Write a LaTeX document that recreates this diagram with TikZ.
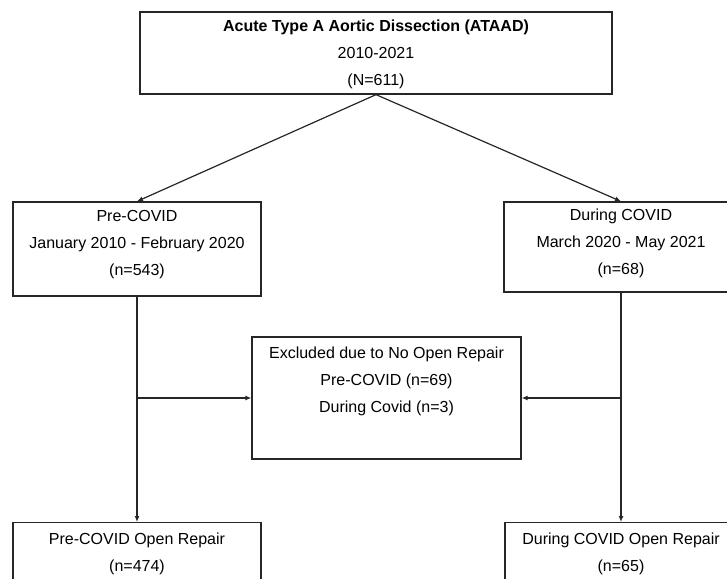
\documentclass[tikz,border=0pt]{standalone}
\usepackage{fontspec}
\setmainfont{Liberation Sans}
\usetikzlibrary{arrows.meta,positioning}
\tikzset{
  box/.style={draw=black!85, line width=1.3pt, rectangle, align=center, inner sep=0pt,
    font=\fontsize{16pt}{27pt}\selectfont},
  link/.style={draw=black!85, line width=1.2pt, -{Latex[length=6pt,width=5pt]}}
}

\begin{document}
\begin{tikzpicture}[x=1pt,y=-1pt]
\clip (0,0) rectangle (727,578);
\node[box, minimum width=472pt, minimum height=82pt, text depth=0pt] (A) at (376,53) {\textbf{Acute Type A Aortic Dissection (ATAAD)}\\2010-2021\\(N=611)};
\node[box, minimum width=248pt, minimum height=94pt, text depth=13pt] (B) at (137,249) {Pre-COVID\\January 2010 - February 2020\\(n=543)};
\node[box, minimum width=234pt, minimum height=90pt, text depth=10pt] (C) at (621,247) {During COVID\\March 2020 - May 2021\\(n=68)};
\node[box, minimum width=269pt, minimum height=122pt, text depth=36pt] (D) at (386.5,398) {Excluded due to No Open Repair\\Pre-COVID (n=69)\\During Covid (n=3)};
\node[box, minimum width=248pt, minimum height=62pt, anchor=north] (E) at (137,522) {Pre-COVID Open Repair\\(n=474)};
\node[box, minimum width=232pt, minimum height=62pt, anchor=north] (F) at (621,522) {During COVID Open Repair\\(n=65)};

\coordinate (jB) at (B.south |- D.west);
\coordinate (jC) at (C.south |- D.east);

\draw[link] (A.south) -- (B.north);
\draw[link] (A.south) -- (C.north);
\draw[link] (B.south) -- (E.north);
\draw[link] (C.south) -- (F.north);
\draw[link] (jB) -- (D.west);
\draw[link] (jC) -- (D.east);

\end{tikzpicture}
\end{document}
